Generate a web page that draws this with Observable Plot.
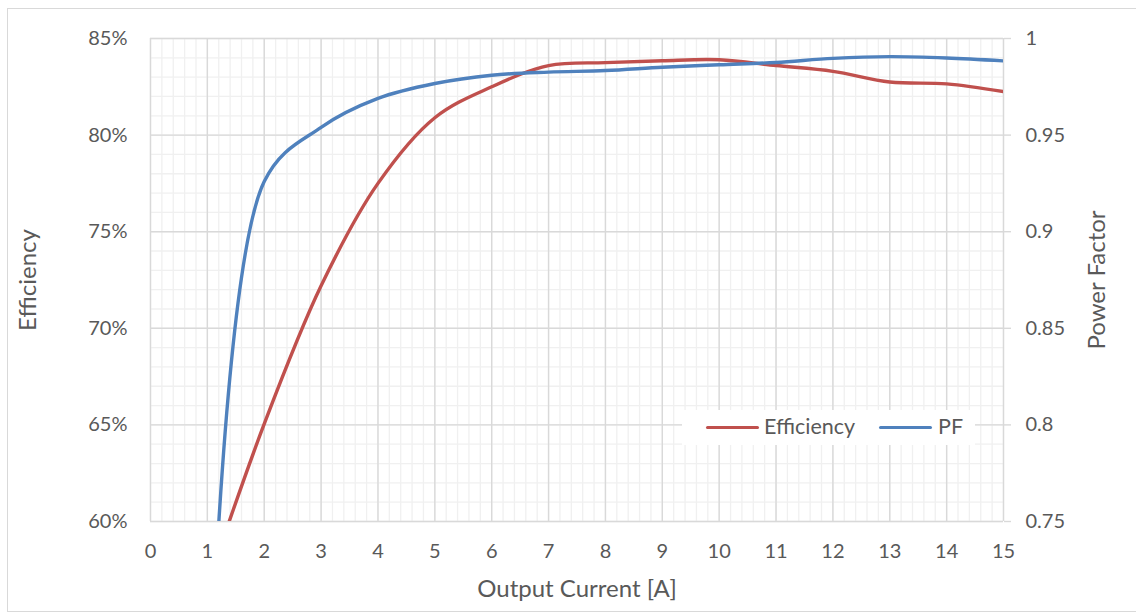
<!DOCTYPE html>
<html>
<head>
<meta charset="utf-8">
<script src="https://cdn.jsdelivr.net/npm/d3@7"></script>
<script src="https://cdn.jsdelivr.net/npm/@observablehq/plot@0.6"></script>
<style>
  html, body { margin: 0; padding: 0; background: #fff; overflow: hidden; }
  #wrap { position: relative; width: 1136px; height: 613px; font-family: Lato, "Open Sans", sans-serif; }
  #border { position: absolute; left: 7px; top: 8px; width: 1150px; height: 604px; border: 1px solid #d9d9d9; box-sizing: border-box; }
  #chart { position: absolute; left: 0; top: 0; }
  #legend { position: absolute; left: 682px; top: 410px; width: 293px; height: 35px; background: #fff; color: #595959; font-size: 21.5px; }
  .sw { position: absolute; top: 16px; height: 3.4px; border-radius: 2px; }
  .lt { position: absolute; top: 4px; line-height: 24px; white-space: nowrap; }
</style>
</head>
<body>
<div id="wrap">
  <div id="border"></div>
  <div id="chart"></div>
  <div id="legend"></div>
</div>
<script>
// ---- data ----
const current = [1, 2, 3, 4, 5, 6, 7, 8, 9, 10, 11, 12, 13, 14, 15];
const efficiency = [56.7, 65.05, 72.2, 77.5, 80.9, 82.5, 83.6, 83.75, 83.85, 83.9, 83.6, 83.3, 82.75, 82.65, 82.25];
const powerFactor = [0.62, 0.926, 0.954, 0.969, 0.9767, 0.981, 0.9826, 0.9834, 0.9851, 0.9864, 0.9876, 0.9897, 0.9906, 0.9899, 0.9884];
const xTicks = [0, 1, 2, 3, 4, 5, 6, 7, 8, 9, 10, 11, 12, 13, 14, 15];
const effTicks = [60, 65, 70, 75, 80, 85];
const pfTicks = [0.75, 0.8, 0.85, 0.9, 0.95, 1];
const seriesNames = ["Efficiency", "PF"];
const seriesColors = ["#c0504d", "#4f81bd"];

// map power factor onto the efficiency scale (0.75..1 -> 60..85)
const pfToEff = d => effTicks[0] + (d - pfTicks[0]) * (effTicks[effTicks.length - 1] - effTicks[0]) / (pfTicks[pfTicks.length - 1] - pfTicks[0]);

const minorX = d3.range(0, 75 + 1).map(i => i / 5);
const minorY = d3.range(60, 86);

const chart = Plot.plot({
  width: 1136,
  height: 613,
  marginLeft: 150,
  marginRight: 133,
  marginTop: 38,
  marginBottom: 92,
  x: { domain: [0, 15] },
  y: { domain: [60, 85] },
  style: { fontFamily: "Lato, 'Open Sans', sans-serif", fontSize: "20px", color: "#595959", background: "transparent", overflow: "visible" },
  marks: [
    Plot.gridX(minorX, { stroke: "#f0f0f0", strokeOpacity: 1, strokeWidth: 1.3 }),
    Plot.gridY(minorY, { stroke: "#f0f0f0", strokeOpacity: 1, strokeWidth: 1.3 }),
    Plot.gridX(xTicks, { stroke: "#d9d9d9", strokeOpacity: 1, strokeWidth: 1.4 }),
    Plot.gridY(effTicks, { stroke: "#d9d9d9", strokeOpacity: 1, strokeWidth: 1.4 }),
    Plot.axisX({ ticks: xTicks, tickSize: 0, tickPadding: 22, label: null, fontSize: 20 }),
    Plot.axisY({ ticks: effTicks, tickSize: 0, tickPadding: 23, tickFormat: d => d + "%", label: null, fontSize: 20 }),
    Plot.axisY({ anchor: "right", ticks: effTicks, tickSize: 7, tickPadding: 15, stroke: "#d9d9d9", strokeWidth: 1.4,
      tickFormat: (d, i) => String(pfTicks[i]), label: null, fontSize: 20 }),
    Plot.lineY(efficiency, { x: current, curve: "catmull-rom", stroke: seriesColors[0], strokeWidth: 3.4, clip: true, strokeLinecap: "round" }),
    Plot.lineY(powerFactor, { x: current, y: pfToEff, curve: "catmull-rom", stroke: seriesColors[1], strokeWidth: 3.4, clip: true, strokeLinecap: "round" }),
    Plot.text(["Output Current [A]"], { frameAnchor: "bottom", dy: 75, fontSize: 24, fill: "#595959", textAnchor: "middle" }),
    Plot.text(["Efficiency"], { frameAnchor: "left", dx: -122, rotate: -90, fontSize: 24, fill: "#595959", textAnchor: "middle" }),
    Plot.text(["Power Factor"], { frameAnchor: "right", dx: 94, rotate: -90, fontSize: 24, fill: "#595959", textAnchor: "middle" })
  ]
});
document.getElementById("chart").appendChild(chart);

// legend
const legend = document.getElementById("legend");
const items = [
  { sw: 24, len: 53, tx: 82 },
  { sw: 197, len: 53, tx: 256 }
];
seriesNames.forEach((name, i) => {
  const s = document.createElement("div");
  s.className = "sw";
  s.style.left = items[i].sw + "px";
  s.style.width = items[i].len + "px";
  s.style.background = seriesColors[i];
  legend.appendChild(s);
  const t = document.createElement("div");
  t.className = "lt";
  t.style.left = items[i].tx + "px";
  t.textContent = name;
  legend.appendChild(t);
});
</script>
</body>
</html>
